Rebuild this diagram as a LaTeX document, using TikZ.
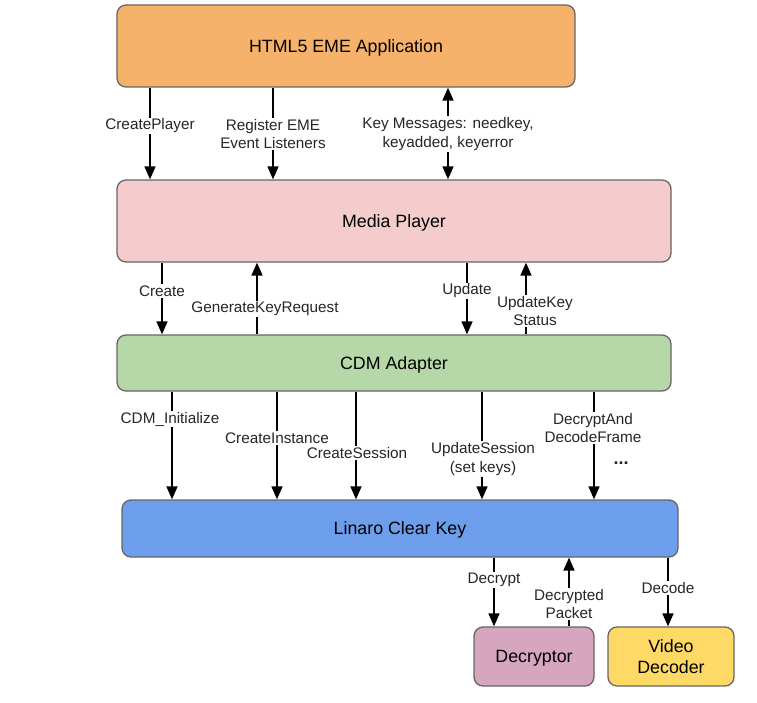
\documentclass[tikz,border=0pt]{standalone}
\usepackage{fontspec}
\setmainfont{Liberation Sans}
\usetikzlibrary{arrows.meta}
\definecolor{cApp}{HTML}{F6B26B}
\definecolor{cMP}{HTML}{F4CCCC}
\definecolor{cCDM}{HTML}{B6D7A8}
\definecolor{cLin}{HTML}{6D9EEB}
\definecolor{cDec}{HTML}{D5A6BD}
\definecolor{cVid}{HTML}{FFD966}
\definecolor{cBorder}{HTML}{666666}
\tikzset{
  box/.style={draw=cBorder, line width=1.3pt, rounded corners=9pt, align=center,
    font=\fontsize{17.8}{21.5}\selectfont, inner sep=0pt, text depth=0pt},
  arr/.style={line width=1.6pt, -{Triangle[width=11pt,length=13pt]}},
  bi/.style={line width=1.6pt, {Triangle[width=11pt,length=13pt]}-{Triangle[width=11pt,length=13pt]}},
  lbl/.style={fill=white, font=\fontsize{15.3}{18.5}\selectfont, inner sep=1.2pt, align=center, text=black!85},
}
\begin{document}
\begin{tikzpicture}[x=1pt,y=-1pt]
\useasboundingbox[fill=white] (0,0) rectangle (757,703);
% boxes
\node[box, fill=cApp, minimum width=458pt, minimum height=82pt] (app) at (346,46) {HTML5 EME Application};
\node[box, fill=cMP, minimum width=554pt, minimum height=82pt] (mp) at (394,221) {Media Player};
\node[box, fill=cCDM, minimum width=554pt, minimum height=56pt] (cdm) at (394,363) {CDM Adapter};
\node[box, fill=cLin, minimum width=556pt, minimum height=57pt] (lin) at (400,528.5) {Linaro Clear Key};
\node[box, fill=cDec, minimum width=120pt, minimum height=59pt] (dec) at (534,656.5) {Decryptor};
\node[box, fill=cVid, minimum width=126pt, minimum height=59pt] (vid) at (671,656.5) {Video\\Decoder};
% app <-> media player
\draw[arr] (app.south -| 150,0) -- (mp.north -| 150,0);
\draw[arr] (app.south -| 273,0) -- (mp.north -| 273,0);
\draw[bi] (app.south -| 448,0) -- (mp.north -| 448,0);
\node[lbl] (l1) at (150,126) {CreatePlayer};
\node[lbl] (l2) at (273,134) {Register EME\\Event Listeners};
\node[lbl] (l3) at (448,134) {Key Messages: needkey,\\keyadded, keyerror};
% media player <-> cdm
\draw[arr] (mp.south -| 162,0) -- (cdm.north -| 162,0);
\draw[arr] (cdm.north -| 257,0) -- (mp.south -| 257,0);
\draw[arr] (mp.south -| 467,0) -- (cdm.north -| 467,0);
\draw[arr] (cdm.north -| 526,0) -- (mp.south -| 526,0);
\node[lbl] (l4) at (162,291) {Create};
\node[lbl] (l5) at (265,309) {GenerateKeyRequest};
\node[lbl] (l6) at (467,291) {Update};
\node[lbl] (l7) at (535,311) {UpdateKey\\Status};
% cdm -> linaro
\draw[arr] (cdm.south -| 172,0) -- (lin.north -| 172,0);
\draw[arr] (cdm.south -| 277,0) -- (lin.north -| 277,0);
\draw[arr] (cdm.south -| 356,0) -- (lin.north -| 356,0);
\draw[arr] (cdm.south -| 482,0) -- (lin.north -| 482,0);
\draw[arr] (cdm.south -| 594,0) -- (lin.north -| 594,0);
\node[lbl] (l8) at (170,419) {CDM\_Initialize};
\node[lbl] (l9) at (277,438) {CreateInstance};
\node[lbl] (l10) at (357,453) {CreateSession};
\node[lbl] (l11) at (483,459) {UpdateSession\\(set keys)};
\node[lbl] (l12) at (593,428) {DecryptAnd\\DecodeFrame};
\node[lbl] (dots) at (621,463) {\fontsize{18}{20}\selectfont\textbf{...}};
% linaro -> bottom
\draw[arr] (lin.south -| 494,0) -- (dec.north -| 494,0);
\draw[arr] (dec.north -| 569,0) -- (lin.south -| 569,0);
\draw[arr] (lin.south -| 668,0) -- (vid.north -| 668,0);
\node[lbl] (l13) at (494,580) {Decrypt};
\node[lbl] (l14) at (569,604) {Decrypted\\Packet};
\node[lbl] (l15) at (668,588) {Decode};
\end{tikzpicture}
\end{document}
